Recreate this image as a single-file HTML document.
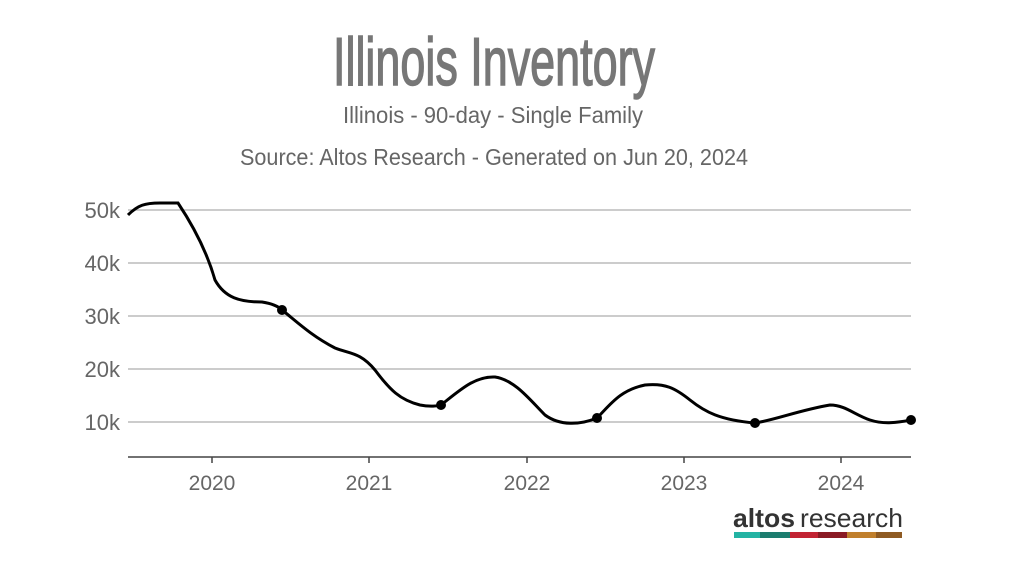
<!DOCTYPE html>
<html><head><style>body{margin:0;background:#fff}svg{display:block}</style></head>
<body>
<svg width="1022" height="576" viewBox="0 0 1022 576" xmlns="http://www.w3.org/2000/svg" font-family="Liberation Sans, sans-serif">
<rect width="1022" height="576" fill="#fff"/>
<text x="333" y="85" font-size="68" fill="#777" stroke="#777" stroke-width="1.5" textLength="322" lengthAdjust="spacingAndGlyphs">Illinois Inventory</text>
<text x="343" y="123" font-size="23" fill="#666" textLength="300" lengthAdjust="spacingAndGlyphs">Illinois - 90-day - Single Family</text>
<text x="240" y="165" font-size="23" fill="#666" textLength="508" lengthAdjust="spacingAndGlyphs">Source: Altos Research - Generated on Jun 20, 2024</text>
<g stroke="#bbb" stroke-width="1.5">
<line x1="128" y1="210" x2="911" y2="210"/><line x1="128" y1="263" x2="911" y2="263"/>
<line x1="128" y1="316" x2="911" y2="316"/><line x1="128" y1="369" x2="911" y2="369"/>
<line x1="128" y1="422" x2="911" y2="422"/>
</g>
<line x1="128" y1="457" x2="911" y2="457" stroke="#444" stroke-width="1.5"/>
<g stroke="#444" stroke-width="1.5"><line x1="212" y1="457" x2="212" y2="463"/><line x1="369" y1="457" x2="369" y2="463"/><line x1="527" y1="457" x2="527" y2="463"/><line x1="684" y1="457" x2="684" y2="463"/><line x1="841" y1="457" x2="841" y2="463"/></g>
<g font-size="22" fill="#666" text-anchor="end">
<text x="120" y="218">50k</text><text x="120" y="271">40k</text><text x="120" y="324">30k</text><text x="120" y="377">20k</text><text x="120" y="430">10k</text>
</g>
<g font-size="21" fill="#666" text-anchor="middle">
<text x="212" y="490">2020</text><text x="369" y="490">2021</text><text x="527" y="490">2022</text><text x="684" y="490">2023</text><text x="841" y="490">2024</text>
</g>
<path d="M128,215 C138,205 145,203 160,203 L178,203 C188,218 205,245 215,280 C225,298 240,302 262,302 C275,304 280,308 282,310 C295,320 310,335 335,348 C350,354 360,352 375,370 C390,390 400,400 420,405 C430,407 438,406 441,405 C460,390 475,376 495,377 C515,380 530,400 545,415 C560,426 580,425 597,418 C610,405 620,390 645,385 C665,383 675,388 690,400 C705,412 720,420 755,423 C775,420 800,410 830,405 C845,405 855,415 870,420 C885,425 900,422 911,420" fill="none" stroke="#000" stroke-width="3"/>
<g fill="#000"><circle cx="282" cy="310" r="5"/><circle cx="441" cy="405" r="5"/><circle cx="597" cy="418" r="5"/><circle cx="755" cy="423" r="5"/><circle cx="911" cy="420" r="5"/></g>
<text x="733" y="527" font-size="26" fill="#333" font-weight="bold" textLength="62" lengthAdjust="spacingAndGlyphs">altos</text>
<text x="800" y="527" font-size="26" fill="#333" textLength="103" lengthAdjust="spacingAndGlyphs">research</text>
<rect x="734" y="532" width="26" height="6" fill="#23b3a3"/><rect x="760" y="532" width="30" height="6" fill="#1c7c6e"/>
<rect x="790" y="532" width="28" height="6" fill="#c22333"/><rect x="818" y="532" width="29" height="6" fill="#8a1a24"/>
<rect x="847" y="532" width="29" height="6" fill="#c07f2c"/><rect x="876" y="532" width="26" height="6" fill="#8e5a22"/>
</svg>
</body></html>
